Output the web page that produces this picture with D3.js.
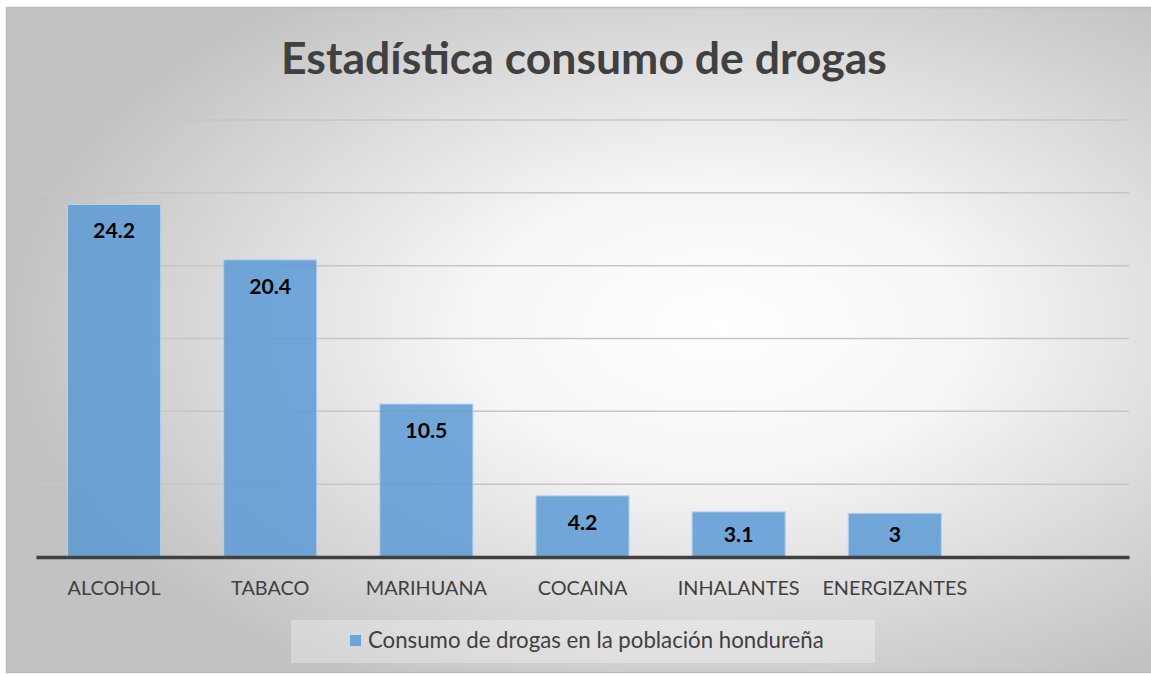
<!DOCTYPE html>
<html><head><meta charset="utf-8">
<script src="https://cdn.jsdelivr.net/npm/d3@7"></script>
<style>html,body{margin:0;padding:0;background:#fff;}svg{display:block;}</style>
</head><body>
<script>
const categories = ["ALCOHOL","TABACO","MARIHUANA","COCAINA","INHALANTES","ENERGIZANTES",""];
const values = [24.2, 20.4, 10.5, 4.2, 3.1, 3];
const yTicks = [0,5,10,15,20,25,30];
const title = "Estadística consumo de drogas";
const seriesName = "Consumo de drogas en la población hondureña";

const W = 1151, H = 674;
const FONT = "Lato, 'Open Sans', sans-serif";
const svg = d3.select("body").append("svg").attr("width", W).attr("height", H);
const defs = svg.append("defs");
const g = defs.append("radialGradient").attr("id","bg")
  .attr("cx",0.62).attr("cy",0.48).attr("r",0.62).attr("fx",0.62).attr("fy",0.48);
g.append("stop").attr("offset","0%").attr("stop-color","#ffffff");
g.append("stop").attr("offset","35%").attr("stop-color","#f6f6f6");
g.append("stop").attr("offset","100%").attr("stop-color","#c2c2c2");

svg.append("rect").attr("x",6.5).attr("y",7.5).attr("width",1150).attr("height",665)
  .attr("fill","url(#bg)").attr("stroke","#bdbdbd").attr("stroke-width",1.5);

const x = d3.scaleBand().domain(categories).range([36,1129]).paddingInner(0.404).paddingOuter(0.202);
const y = d3.scaleLinear().domain([0,30]).range([557,120]);

function fit(sel, target){
  const w = sel.node().getComputedTextLength();
  const fs = parseFloat(sel.attr("font-size"));
  sel.attr("font-size", fs*target/w);
  return fs*target/w;
}

// gridlines
svg.append("g").selectAll("line").data(yTicks.filter(d=>d>0)).join("line")
  .attr("x1",36).attr("x2",1129).attr("y1",d=>y(d)).attr("y2",d=>y(d))
  .attr("stroke","#c6c6c6").attr("stroke-width",1.5);

// bars
svg.append("g").selectAll("rect").data(values).join("rect")
  .attr("x",(d,i)=>x(categories[i])).attr("width",x.bandwidth())
  .attr("y",d=>y(d)).attr("height",d=>y(0)-y(d))
  .attr("fill","#5b9bd5").attr("fill-opacity",0.85)
  .attr("stroke","#b4d0ec").attr("stroke-width",1);

// axis baseline
const xAxis = svg.append("g").attr("transform",`translate(0,${y(0)})`)
  .call(d3.axisBottom(x).tickSize(0).tickPadding(0));
xAxis.select(".domain").attr("stroke","#404040").attr("stroke-width",3.5);
xAxis.selectAll("text").attr("fill","#404040").attr("font-family",FONT).attr("font-size",18)
  .attr("dy",0).attr("y",38);
const t0 = xAxis.selectAll("text").filter(d=>d==="ALCOHOL");
const catFs = fit(t0, 93);
xAxis.selectAll("text").attr("font-size",catFs);

// data labels
const dl = svg.append("g").selectAll("text").data(values).join("text")
  .attr("x",(d,i)=>x(categories[i])+x.bandwidth()/2)
  .attr("y",d=>Math.min(y(d)+34, 542))
  .attr("text-anchor","middle").attr("font-family",FONT).attr("font-weight","bold")
  .attr("font-size",18).attr("fill","#000").text(d=>d);
const dfs = fit(dl.filter((d,i)=>i===0), 42);
dl.attr("font-size",dfs);

// title
const tt = svg.append("text").attr("x",584).attr("y",74).attr("text-anchor","middle")
  .attr("font-family",FONT).attr("font-weight","bold").attr("font-size",40)
  .attr("fill","#404040").text(title);
fit(tt, 606);

// legend
svg.append("rect").attr("x",291).attr("y",620).attr("width",584).attr("height",43)
  .attr("fill","#ffffff").attr("fill-opacity",0.3);
svg.append("rect").attr("x",350).attr("y",635).attr("width",11).attr("height",11)
  .attr("fill","#5b9bd5").attr("fill-opacity",0.85);
const lt = svg.append("text").attr("x",368).attr("y",647.5)
  .attr("font-family",FONT).attr("font-size",18).attr("fill","#404040").text(seriesName);
fit(lt, 456);
</script>
</body></html>
